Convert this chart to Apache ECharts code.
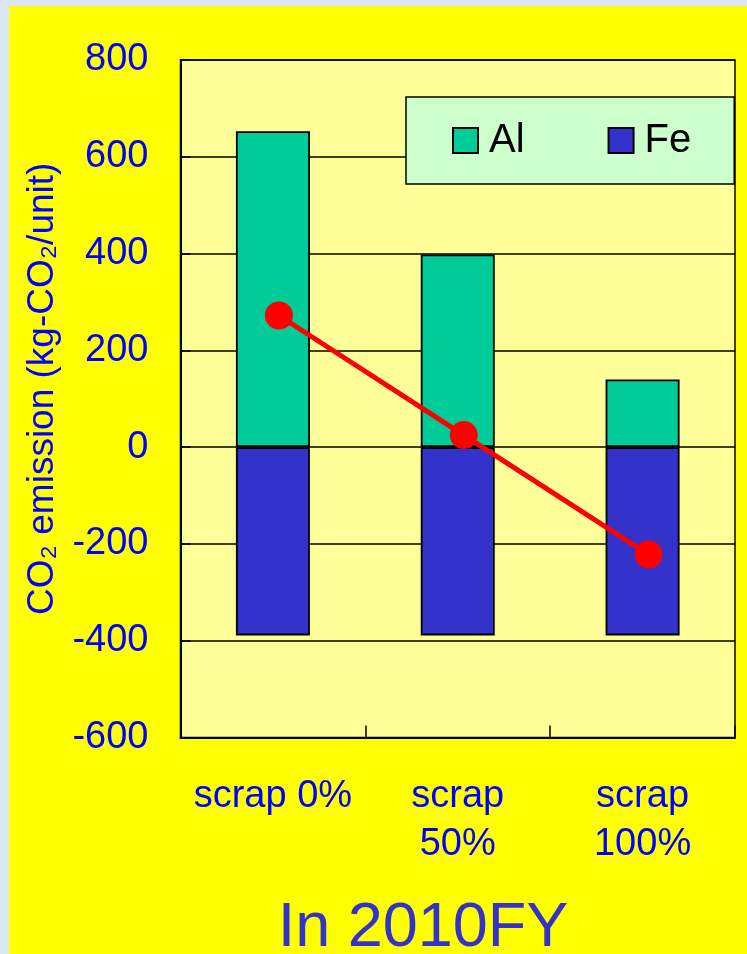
<!DOCTYPE html>
<html>
<head>
<meta charset="utf-8">
<script src="https://cdn.jsdelivr.net/npm/echarts@6/dist/echarts.min.js"></script>
<style>
html,body{margin:0;padding:0;}
body{width:747px;height:954px;background:#DAE8F7;position:relative;overflow:hidden;}
#c{position:absolute;left:9px;top:6px;width:738px;height:948px;background:#FFFF00;}
</style>
</head>
<body>
<div id="c"></div>
<script>
const categories = ['scrap 0%', 'scrap\n50%', 'scrap\n100%'];
const alValues = [653, 398, 140];
const feValues = [-389, -389, -389];
const netValues = [272, 25, -222];
const yTicks = { min: -600, max: 800, interval: 200 };

const FONT = "'Liberation Sans', Arial, sans-serif";
const chart = echarts.init(document.getElementById('c'), null, { renderer: 'canvas' });

const gridBase = { top: 54, bottom: 216.5 };
chart.setOption({
  animation: false,
  textStyle: { fontFamily: FONT },
  grid: [
    { left: 171.5, right: 12, top: gridBase.top, bottom: gridBase.bottom, show: true,
      backgroundColor: '#FFFF99', borderColor: '#000', borderWidth: 1.5, containLabel: false },
    { left: 177.5, right: 6, top: gridBase.top, bottom: gridBase.bottom, show: false }
  ],
  legend: {
    data: ['Al', 'Fe'],
    left: 397, top: 91,
    orient: 'horizontal',
    backgroundColor: '#CCFFCC', borderColor: '#000', borderWidth: 1.5,
    padding: [23.5, 43, 23.5, 46],
    itemWidth: 25, itemHeight: 25, itemGap: 83,
    icon: 'rect',
    textStyle: { fontSize: 40, color: '#000', fontFamily: FONT, lineHeight: 40, padding: [0, 0, 0, 6] }
  },
  xAxis: [
    { type: 'category', gridIndex: 0, data: categories,
      axisLine: { show: true, onZero: false, lineStyle: { color: '#000', width: 2 } },
      axisTick: { show: true, inside: true, length: 12, alignWithLabel: false, lineStyle: { color: '#000', width: 1.5 } },
      axisLabel: { color: '#0000FF', fontSize: 38, lineHeight: 48, margin: 35, interval: 0, fontFamily: FONT },
      splitLine: { show: false } },
    { type: 'category', gridIndex: 1, data: categories, show: false }
  ],
  yAxis: [
    { type: 'value', gridIndex: 0, min: yTicks.min, max: yTicks.max, interval: yTicks.interval,
      axisLine: { show: true, lineStyle: { color: '#000', width: 2 } },
      axisTick: { show: true, inside: true, length: 10, lineStyle: { color: '#000', width: 1.5 } },
      axisLabel: { color: '#0000FF', fontSize: 38, margin: 32, fontFamily: FONT },
      splitLine: { show: true, lineStyle: { color: '#000', width: 1.5 } },
      name: 'CO₂ emission (kg-CO₂/unit)',
      nameLocation: 'middle', nameRotate: 90, nameGap: 109,
      nameTextStyle: { color: '#0000FF', fontSize: 37, fontFamily: FONT, padding: [0, 0, 0, 20] } },
    { type: 'value', gridIndex: 1, min: yTicks.min, max: yTicks.max, interval: yTicks.interval, show: false }
  ],
  series: [
    { name: 'Al', type: 'bar', stack: 'total', xAxisIndex: 0, yAxisIndex: 0, data: alValues, barWidth: 74,
      itemStyle: { color: '#00CC99', borderColor: '#000', borderWidth: 1.8 } },
    { name: 'Fe', type: 'bar', stack: 'total', xAxisIndex: 0, yAxisIndex: 0, data: feValues, barWidth: 74,
      itemStyle: { color: '#3333CC', borderColor: '#000', borderWidth: 1.8 } },
    { name: 'Net', type: 'line', xAxisIndex: 1, yAxisIndex: 1, data: netValues,
      symbol: 'circle', symbolSize: 28,
      lineStyle: { color: '#FF0000', width: 5 },
      itemStyle: { color: '#FF0000' }, z: 5 }
  ],
  graphic: [
    { type: 'text', x: 414, y: 923,
      style: { text: 'In 2010FY', fill: '#3333CC', fontSize: 63, fontFamily: FONT,
        textAlign: 'center', textVerticalAlign: 'middle' } }
  ]
});
</script>
</body>
</html>
